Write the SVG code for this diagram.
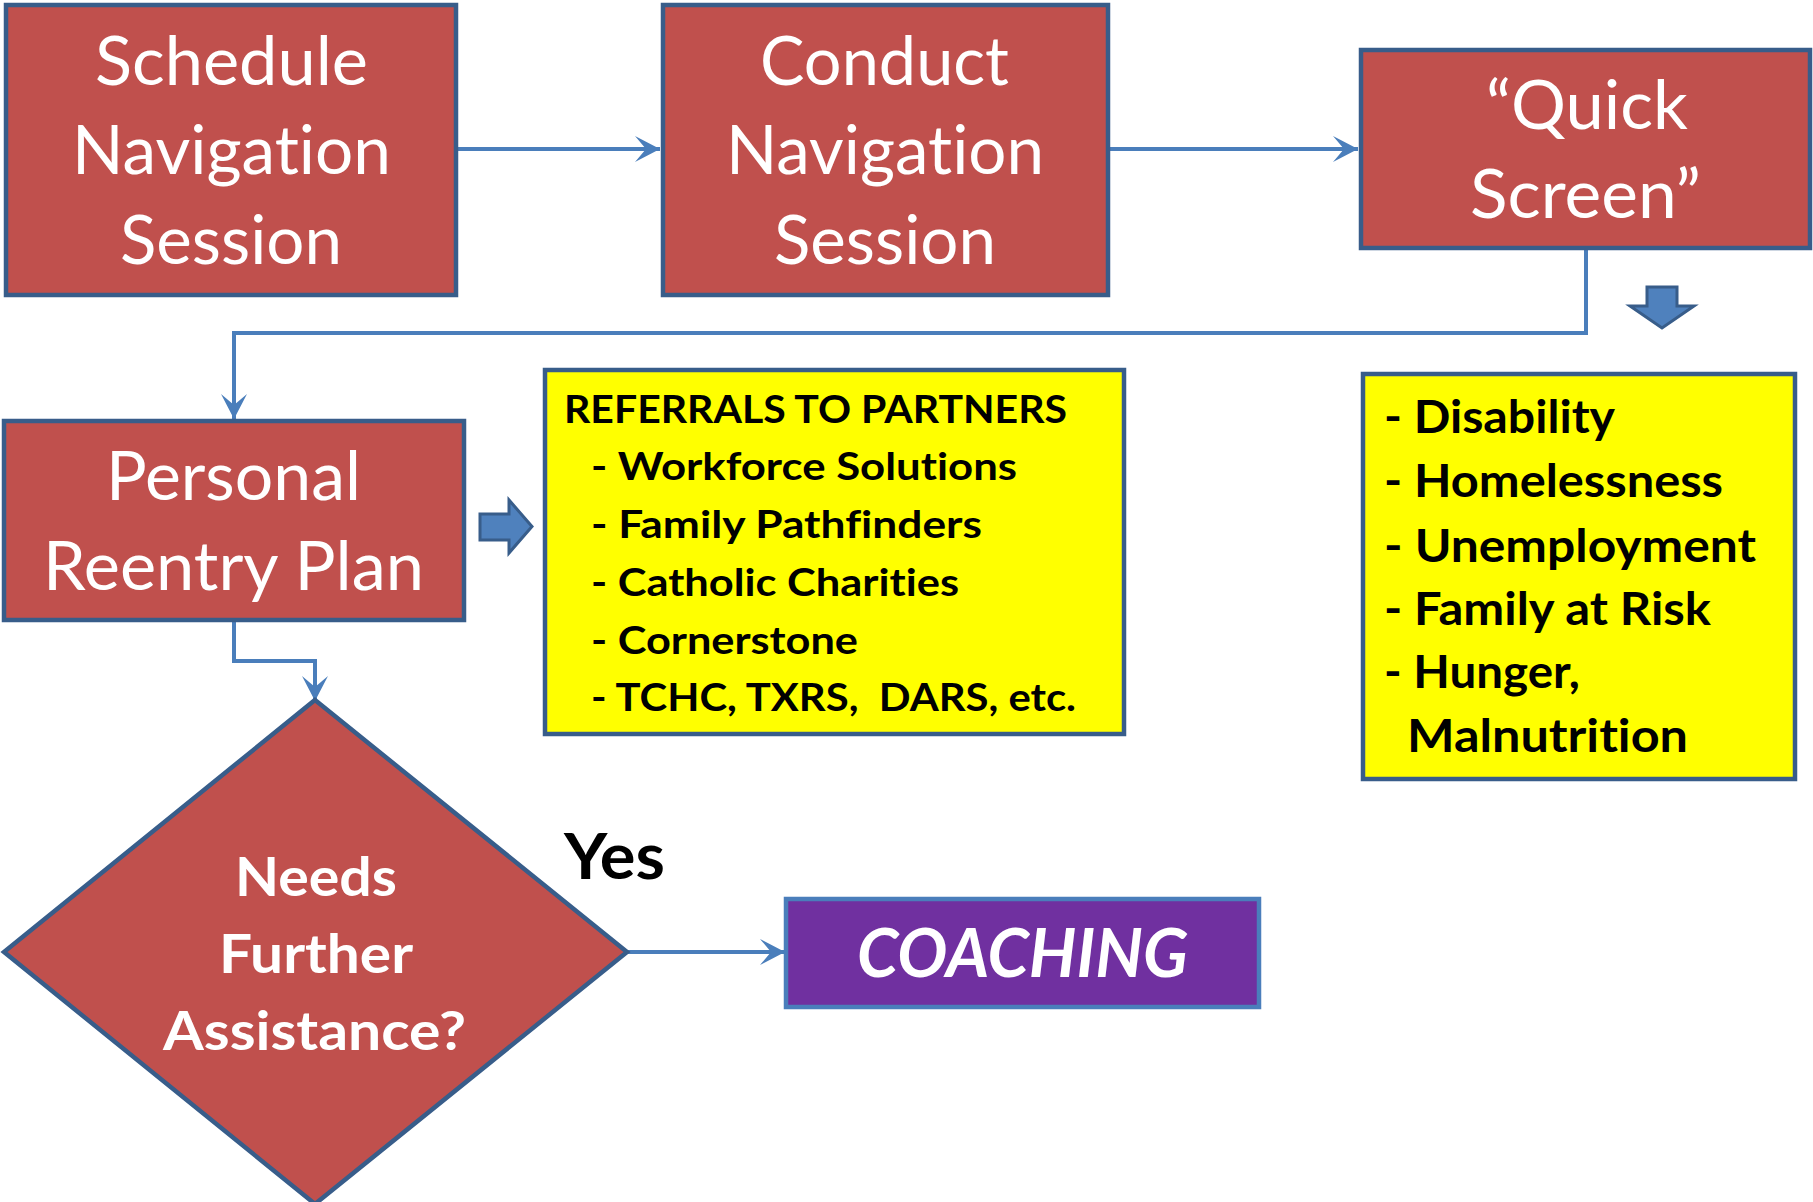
<svg xmlns="http://www.w3.org/2000/svg" width="1813" height="1202" viewBox="0 0 1813 1202">
<style>
text{font-variant-ligatures:none;font-feature-settings:"liga" 0,"clig" 0}
.box{fill:#C0504D;stroke:#385D8A;stroke-width:4.5}
.ybox{fill:#FFFF00;stroke:#385D8A;stroke-width:4.5}
.pbox{fill:#7030A0;stroke:#4A7EBB;stroke-width:4.5}
.conn{fill:none;stroke:#4A7EBB;stroke-width:4;marker-end:url(#ah)}
.blk{fill:#4F81BD;stroke:#385D8A;stroke-width:3}
.lbl{font-family:Lato,"Liberation Sans",sans-serif;font-size:67px;fill:#FFFFFF}
.dia{font-family:Lato,"Liberation Sans",sans-serif;font-size:54px;font-weight:bold;fill:#FFFFFF}
.y1{font-family:Lato,"Liberation Sans",sans-serif;font-size:38.5px;font-weight:bold;fill:#000000}
.y2{font-family:Lato,"Liberation Sans",sans-serif;font-size:45px;font-weight:bold;fill:#000000}
</style>
<defs>
<marker id="ah" markerUnits="userSpaceOnUse" viewBox="0 0 25 26" refX="25" refY="13" markerWidth="25" markerHeight="26" orient="auto">
<path d="M0,0 L25,13 L0,26 L11,13 Z" fill="#4A7EBB"/>
</marker>
</defs>
<rect width="1813" height="1202" fill="#FFFFFF"/>
<g id="connectors">
<path class="conn" d="M457,149 H660"/>
<path class="conn" d="M1109,149 H1358"/>
<path class="conn" d="M1586,249 V333 H234 V419"/>
<path class="conn" d="M234,621 V661 H315 V701"/>
<path class="conn" d="M627,952 H785"/>
</g>
<g id="schedule">
<rect class="box" x="6" y="5" width="450" height="290"/>
<text class="lbl" x="95" y="85" textLength="273" lengthAdjust="spacingAndGlyphs">Schedule</text>
<text class="lbl" x="72" y="174" textLength="319" lengthAdjust="spacingAndGlyphs">Navigation</text>
<text class="lbl" x="120" y="264" textLength="222" lengthAdjust="spacingAndGlyphs">Session</text>
</g>
<g id="conduct">
<rect class="box" x="663" y="5" width="445" height="290"/>
<text class="lbl" x="760" y="85" textLength="249" lengthAdjust="spacingAndGlyphs">Conduct</text>
<text class="lbl" x="726" y="174" textLength="318" lengthAdjust="spacingAndGlyphs">Navigation</text>
<text class="lbl" x="774" y="264" textLength="222" lengthAdjust="spacingAndGlyphs">Session</text>
</g>
<g id="quickscreen">
<rect class="box" x="1361" y="50" width="449" height="198"/>
<text class="lbl" x="1486" y="129" textLength="202" lengthAdjust="spacingAndGlyphs">“Quick</text>
<text class="lbl" x="1470" y="218" textLength="231" lengthAdjust="spacingAndGlyphs">Screen”</text>
</g>
<g id="down-arrow">
<polygon class="blk" points="1647,287 1677,287 1677,306 1694,306 1662,328 1630,306 1647,306"/>
</g>
<g id="plan">
<rect class="box" x="4" y="421" width="460" height="199"/>
<text class="lbl" x="106" y="500" textLength="255" lengthAdjust="spacingAndGlyphs">Personal</text>
<text class="lbl" x="43" y="590" textLength="381" lengthAdjust="spacingAndGlyphs">Reentry Plan</text>
</g>
<g id="right-arrow">
<polygon class="blk" points="480,514 509,514 509,500 532,526.5 509,553 509,540 480,540"/>
</g>
<g id="referrals">
<rect class="ybox" x="545" y="370" width="579" height="364"/>
<text class="y1" x="564" y="423" textLength="503" lengthAdjust="spacingAndGlyphs">REFERRALS TO PARTNERS</text>
<text class="y1" x="591" y="480" textLength="426" lengthAdjust="spacingAndGlyphs">- Workforce Solutions</text>
<text class="y1" x="591" y="538" textLength="391" lengthAdjust="spacingAndGlyphs">- Family Pathfinders</text>
<text class="y1" x="591" y="596" textLength="368" lengthAdjust="spacingAndGlyphs">- Catholic Charities</text>
<text class="y1" x="591" y="654" textLength="267" lengthAdjust="spacingAndGlyphs">- Cornerstone</text>
<text class="y1" x="591" y="711" textLength="485" lengthAdjust="spacingAndGlyphs" xml:space="preserve">- TCHC, TXRS,  DARS, etc.</text>
</g>
<g id="risks">
<rect class="ybox" x="1363" y="374" width="432" height="405"/>
<text class="y2" x="1384" y="433" textLength="231" lengthAdjust="spacingAndGlyphs">- Disability</text>
<text class="y2" x="1384" y="497" textLength="339" lengthAdjust="spacingAndGlyphs">- Homelessness</text>
<text class="y2" x="1384" y="562" textLength="372" lengthAdjust="spacingAndGlyphs">- Unemployment</text>
<text class="y2" x="1384" y="625" textLength="327" lengthAdjust="spacingAndGlyphs">- Family at Risk</text>
<text class="y2" x="1384" y="688" textLength="196" lengthAdjust="spacingAndGlyphs">- Hunger,</text>
<text class="y2" x="1407" y="752" textLength="281" lengthAdjust="spacingAndGlyphs">Malnutrition</text>
</g>
<g id="decision">
<polygon class="box" points="315,700 627,952 315,1204 4,952"/>
<text class="dia" x="235" y="896" textLength="162" lengthAdjust="spacingAndGlyphs">Needs</text>
<text class="dia" x="219" y="973" textLength="194" lengthAdjust="spacingAndGlyphs">Further</text>
<text class="dia" x="163" y="1050" textLength="303" lengthAdjust="spacingAndGlyphs">Assistance?</text>
</g>
<g id="yes-label">
<text x="564" y="879" textLength="101" lengthAdjust="spacingAndGlyphs" style="font-family:Lato,'Liberation Sans',sans-serif;font-size:64px;font-weight:bold;fill:#000000">Yes</text>
</g>
<g id="coaching">
<rect class="pbox" x="786" y="899" width="473" height="108"/>
<text x="857" y="977" textLength="331" lengthAdjust="spacingAndGlyphs" style="font-family:Lato,'Liberation Sans',sans-serif;font-size:66px;font-weight:bold;font-style:italic;fill:#FFFFFF">COACHING</text>
</g>
</svg>
